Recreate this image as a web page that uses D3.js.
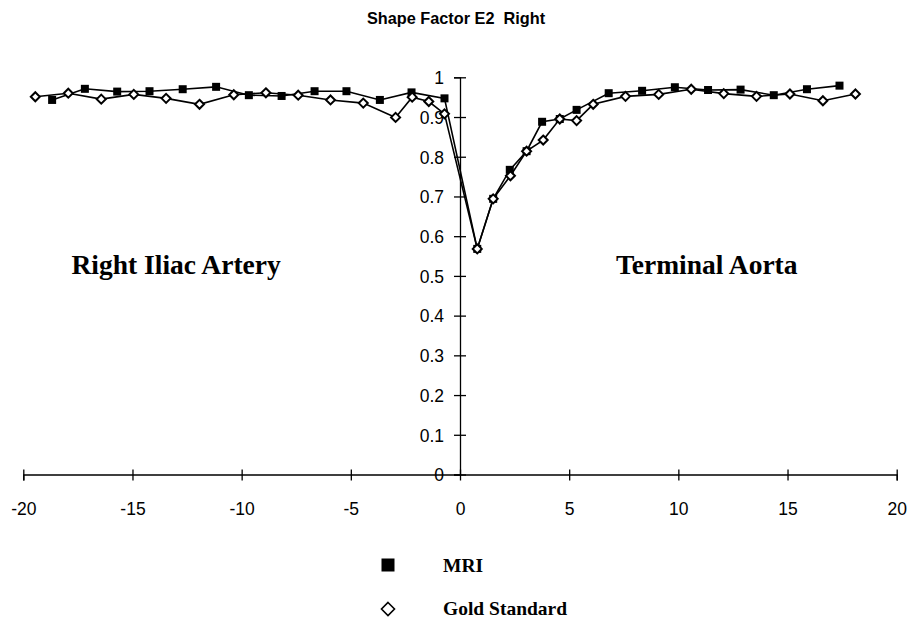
<!DOCTYPE html>
<html>
<head>
<meta charset="utf-8">
<script src="https://cdn.jsdelivr.net/npm/d3@7"></script>
<style>
  body { margin: 0; background: #fff; }
  svg { display: block; }
</style>
</head>
<body>
<script>
// values
const chartTitle = "Shape Factor E2  Right";
const xTicks = [-20, -15, -10, -5, 0, 5, 10, 15, 20];
const yTicks = [0, 0.1, 0.2, 0.3, 0.4, 0.5, 0.6, 0.7, 0.8, 0.9, 1];

const mriX = [-18.68, -17.18, -15.70, -14.22, -12.70, -11.17, -9.67, -8.17, -6.66, -5.20, -3.67, -2.22, -0.71,
              0.79, 1.52, 2.28, 3.05, 3.76, 4.57, 5.34, 6.81, 8.34, 9.84, 11.36, 12.85, 14.37, 15.89, 17.38];
const mriY = [0.943, 0.971, 0.964, 0.965, 0.970, 0.976, 0.955, 0.953, 0.965, 0.965, 0.943, 0.962, 0.947,
              0.568, 0.694, 0.767, 0.814, 0.888, 0.895, 0.918, 0.960, 0.966, 0.975, 0.968, 0.969, 0.955, 0.970, 0.979];

const goldX = [-19.45, -17.94, -16.43, -14.94, -13.46, -11.93, -10.36, -8.89, -7.41, -5.93, -4.43, -2.95, -2.19, -1.43, -0.71,
               0.79, 1.52, 2.31, 3.05, 3.81, 4.57, 5.34, 6.10, 7.58, 9.10, 10.59, 12.08, 13.58, 15.11, 16.62, 18.11];
const goldY = [0.951, 0.960, 0.945, 0.957, 0.947, 0.932, 0.956, 0.961, 0.955, 0.943, 0.935, 0.899, 0.950, 0.939, 0.908,
               0.568, 0.694, 0.752, 0.814, 0.842, 0.895, 0.891, 0.932, 0.952, 0.957, 0.970, 0.959, 0.952, 0.958, 0.941, 0.958];

const regionLabels = ["Right Iliac Artery", "Terminal Aorta"];
const regionX = [-13, 11.3];
const regionY = [0.505, 0.505];

const seriesNames = ["MRI", "Gold Standard"];

const W = 909, H = 623;
const sans = "'Liberation Sans', Arial, Helvetica, sans-serif";
const serif = "'Liberation Serif', 'Times New Roman', Times, serif";

const svg = d3.select("body").append("svg")
  .attr("width", W).attr("height", H);

const x = d3.scaleLinear().domain([-20, 20]).range([23.3, 896.7]);
const y = d3.scaleLinear().domain([0, 1]).range([474.5, 77.3]);

// title
svg.append("text")
  .attr("x", 456).attr("y", 24)
  .attr("text-anchor", "middle")
  .attr("font-family", sans).attr("font-weight", "bold").attr("font-size", 16.3)
  .style("white-space", "pre")
  .text(chartTitle);

// x axis
const xAxis = svg.append("g")
  .attr("transform", `translate(0,${y(0)})`)
  .call(d3.axisBottom(x).tickValues(xTicks).tickFormat(d => String(d)).tickSizeOuter(0).tickSize(6));
xAxis.select(".domain").attr("stroke", "#000").attr("stroke-width", 1.3);
xAxis.selectAll(".tick line").attr("y1", -5).attr("y2", 6).attr("stroke-width", 1.3);
xAxis.selectAll(".tick text")
  .attr("y", 40).attr("dy", 0)
  .attr("font-family", sans).attr("font-size", 17.5).attr("fill", "#000");

// y axis, crossing at x = 0
const yAxis = svg.append("g")
  .attr("transform", `translate(${x(0)},0)`)
  .call(d3.axisLeft(y).tickValues(yTicks).tickFormat(d3.format("~g")).tickSizeOuter(0).tickSize(6));
yAxis.select(".domain").attr("stroke", "#000").attr("stroke-width", 1.3);
yAxis.selectAll(".tick line").attr("x1", 6).attr("x2", -6).attr("stroke-width", 1.3);
yAxis.selectAll(".tick text")
  .attr("x", -16).attr("dy", "0.36em")
  .attr("font-family", sans).attr("font-size", 17.5).attr("fill", "#000");

// region labels
svg.append("g").selectAll("text")
  .data(regionLabels)
  .join("text")
    .attr("x", (d, i) => x(regionX[i]))
    .attr("y", (d, i) => y(regionY[i]))
    .attr("text-anchor", "middle")
    .attr("font-family", serif).attr("font-weight", "bold").attr("font-size", 27.5)
    .text(d => d);

const mri = mriX.map((v, i) => [v, mriY[i]]);
const gold = goldX.map((v, i) => [v, goldY[i]]);

const line = d3.line().x(d => x(d[0])).y(d => y(d[1]));

svg.append("path").datum(mri)
  .attr("d", line).attr("fill", "none").attr("stroke", "#000").attr("stroke-width", 1.6);
svg.append("path").datum(gold)
  .attr("d", line).attr("fill", "none").attr("stroke", "#000").attr("stroke-width", 1.6);

const sq = 8;
svg.append("g").selectAll("rect")
  .data(mri)
  .join("rect")
    .attr("x", d => x(d[0]) - sq / 2)
    .attr("y", d => y(d[1]) - sq / 2)
    .attr("width", sq).attr("height", sq)
    .attr("fill", "#000");

const diamond = r => `M0,${-r}L${r},0L0,${r}L${-r},0Z`;
svg.append("g").selectAll("path")
  .data(gold)
  .join("path")
    .attr("d", diamond(4.5))
    .attr("transform", d => `translate(${x(d[0])},${y(d[1])})`)
    .attr("fill", "#fff").attr("stroke", "#000").attr("stroke-width", 2);

// legend
const legend = svg.append("g");
legend.append("rect")
  .attr("x", 381.5).attr("y", 558.5).attr("width", 13).attr("height", 13)
  .attr("fill", "#000");
legend.append("path")
  .attr("d", diamond(6.5))
  .attr("transform", "translate(388,609)")
  .attr("fill", "#fff").attr("stroke", "#000").attr("stroke-width", 1.6);
legend.selectAll("text")
  .data(seriesNames)
  .join("text")
    .attr("x", 443)
    .attr("y", (d, i) => 572 + i * 43)
    .attr("font-family", serif).attr("font-weight", "bold").attr("font-size", 19.5)
    .text(d => d);
</script>
</body>
</html>
